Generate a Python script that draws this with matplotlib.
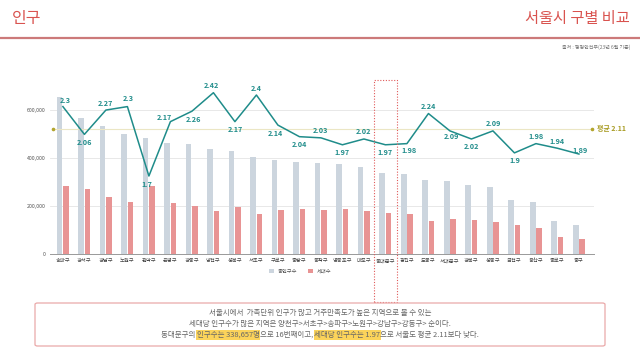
import matplotlib
matplotlib.use("Agg")
import numpy as np
from matplotlib import pyplot as plt
from matplotlib.patches import Rectangle, FancyBboxPatch
from matplotlib.lines import Line2D

plt.rcParams['font.family'] = ['Noto Sans CJK KR', 'DejaVu Sans']

districts = ['송파구', '강서구', '강남구', '노원구', '관악구', '은평구', '강동구', '양천구',
             '성북구', '서초구', '구로구', '중랑구', '동작구', '영등포구', '마포구', '동대문구',
             '광진구', '도봉구', '서대문구', '강북구', '성동구', '금천구', '용산구', '종로구', '중구']
population = [656000, 565000, 533000, 499000, 485000, 462000, 458000, 437000,
              429000, 404000, 393000, 384000, 379000, 374000, 362000, 338657,
              334000, 308000, 306000, 288000, 278000, 227000, 215000, 138000, 120000]
households = [283000, 272000, 236000, 215000, 285000, 211000, 200000, 179000,
              197000, 166000, 182000, 186000, 185000, 189000, 179000, 172000,
              167000, 136000, 146000, 143000, 132000, 119000, 108000, 72000, 62000]
per_household = [2.3, 2.06, 2.27, 2.3, 1.7, 2.17, 2.26, 2.42, 2.17, 2.4, 2.14, 2.04, 2.03,
                 1.97, 2.02, 1.97, 1.98, 2.24, 2.09, 2.02, 2.09, 1.9, 1.98, 1.94, 1.89]
seoul_avg = 2.11
yticks = [0, 200000, 400000, 600000]
highlight = '동대문구'

# where each value label sits relative to its point, (dx, dy) in pixels
label_offsets = [(2, 6), (0, -8), (0, 7), (1, 8), (-2, -8), (-6, 4), (2, -8), (-2, 7),
                 (0, -8), (0, 7), (-3, -8), (0, -8), (0, 7), (0, -8), (0, 7), (0, -8),
                 (2, -7), (0, 7), (2, -6), (0, -8), (0, 7), (0, -8), (0, 7), (0, 7), (1, 4)]

W, H = 640, 360
fig = plt.figure(figsize=(6.4, 3.6), dpi=100)
fig.patch.set_facecolor('white')

red = '#d9534f'
teal = '#1f8c8a'
grey_bar = '#ccd5de'
red_bar = '#e89494'

# header
fig.text(12 / W, 1 - 18 / H, '인구', fontsize=11.5, color=red, va='center', ha='left')
fig.text(630 / W, 1 - 19 / H, '서울시 구별 비교', fontsize=11, color=red, va='center', ha='right')
fig.add_artist(Line2D([0, 1], [1 - 38 / H, 1 - 38 / H], color='#cc7a7a', lw=1.6))
fig.text(630 / W, 1 - 47 / H, '출처 : 행정안전부(23년 6월 기준)', fontsize=3.6,
         color='#777777', va='center', ha='right')

# main axes: bars
ax = fig.add_axes([50 / W, 1 - 254 / H, 544 / W, 168 / H])
x = np.arange(len(districts))
ax.bar(x - 0.15, population, width=0.26, color=grey_bar, zorder=2, label='총인구수')
ax.bar(x + 0.15, households, width=0.26, color=red_bar, zorder=2, label='세대수')
ax.set_xlim(-0.6, 24.7)
ax.set_ylim(0, 700000)
ax.set_yticks(yticks)
ax.set_yticklabels([f'{v:,}' for v in yticks], fontsize=3.8, color='#555555')
ax.set_xticks(x)
ax.set_xticklabels(districts, fontsize=3.8, color='#444444')
ax.tick_params(axis='both', length=0, pad=3)
ax.grid(axis='y', color='#e4e4e4', lw=0.6, zorder=0)
for s in ['top', 'right', 'left']:
    ax.spines[s].set_visible(False)
ax.spines['bottom'].set_color('#999999')
ax.spines['bottom'].set_linewidth(0.7)

# per-household line on a hidden secondary axis
ax2 = ax.twinx()
ax2.set_ylim(1.026, 2.478)
ax2.axis('off')
ax2.plot([-0.45, 24.6], [seoul_avg, seoul_avg], color='#ebe6c4', lw=0.8, zorder=1)
ax2.plot([-0.45, 24.6], [seoul_avg, seoul_avg], ls='none', marker='o', ms=1.6,
         color='#b3a52e', zorder=3)
ax2.annotate(f'평균 {seoul_avg}', xy=(24.6, seoul_avg), xytext=(5, 0),
             textcoords='offset pixels', fontsize=5, fontweight='bold', color='#a89b22',
             va='center', ha='left', annotation_clip=False)
ax2.plot(x, per_household, color=teal, lw=1.1, zorder=4)
for xi, v, (dx, dy) in zip(x, per_household, label_offsets):
    ax2.annotate(f'{v:g}', xy=(xi, v), xytext=(dx, dy), textcoords='offset pixels',
                 fontsize=5.2, fontweight='bold', color=teal, ha='center', va='center')

# dotted box around the highlighted district
hi = districts.index(highlight)
x0 = ax.transData.transform((hi - 0.52, 0))[0]
x1 = ax.transData.transform((hi + 0.52, 0))[0]
fig.add_artist(Rectangle((x0 / W, 1 - 302 / H), (x1 - x0) / W, 222 / H,
                         fill=False, ls=(0, (1, 1.5)), lw=0.8, ec='#e05a5a'))

# legend
ax.legend(loc='upper center', bbox_to_anchor=(0.46, -0.06), ncol=2, frameon=False,
          fontsize=3.8, handlelength=0.9, handleheight=0.9, columnspacing=2.2,
          handletextpad=0.6, labelcolor='#555555')

# comment box
fig.add_artist(FancyBboxPatch((35 / W, 1 - 346 / H), 570 / W, 43 / H,
                              boxstyle='round,pad=0,rounding_size=0.004',
                              fill=False, ec='#eaa9a9', lw=0.9))
txt_color = '#666666'
fs = 5.4
fig.text(0.5, 1 - 313 / H, '서울시에서  가족단위 인구가 많고 거주만족도가 높은 지역으로 볼 수 있는',
         fontsize=fs, color=txt_color, ha='center', va='center')
fig.text(0.5, 1 - 324 / H, '세대당 인구수가 많은 지역은 양천구>서초구>송파구>노원구>강남구>강동구> 순이다.',
         fontsize=fs, color=txt_color, ha='center', va='center')

# third line with highlighted parts, laid out piece by piece
pieces = [('동대문구의 ', False), ('인구수는 338,657명', True), ('으로 16번째이고, ', False),
          ('세대당 인구수는 1.97', True), ('으로 서울도 평균 2.11보다 낮다.', False)]
renderer = fig.canvas.get_renderer()
texts = []
for s, hl in pieces:
    t = fig.text(0, 1 - 335 / H, s, fontsize=fs, color=txt_color, ha='left', va='center')
    if hl:
        t.set_bbox(dict(facecolor='#fbd35a', edgecolor='none', pad=0.6))
    texts.append(t)
widths = [t.get_window_extent(renderer).width for t in texts]
xpos = W / 2 - sum(widths) / 2
for t, w in zip(texts, widths):
    t.set_x(xpos / W)
    xpos += w

fig.savefig('out.png', dpi=100, facecolor='white')
